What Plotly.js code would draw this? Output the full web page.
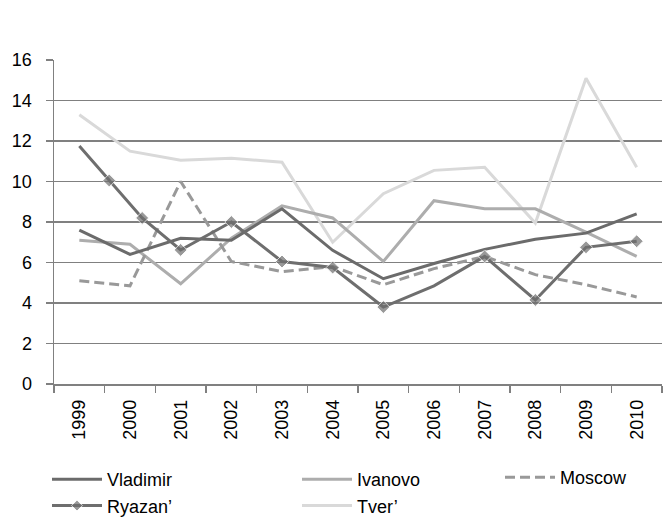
<!DOCTYPE html>
<html>
<head>
<meta charset="utf-8">
<script src="https://cdn.plot.ly/plotly-3.0.1.min.js"></script>
<style>
  body { margin: 0; background: #fff; }
  #chart { width: 669px; height: 517px; }
</style>
</head>
<body>
<div id="chart"></div>
<script>
// values
var years = [1999, 2000, 2001, 2002, 2003, 2004, 2005, 2006, 2007, 2008, 2009, 2010];
var yearLabels = ['1999', '2000', '2001', '2002', '2003', '2004', '2005', '2006', '2007', '2008', '2009', '2010'];

var vladimir = [7.6, 6.4, 7.2, 7.1, 8.65, 6.6, 5.2, 5.95, 6.65, 7.15, 7.45, 8.4];
var ivanovo  = [7.1, 6.9, 4.95, 7.2, 8.8, 8.2, 6.05, 9.05, 8.65, 8.65, 7.5, 6.3];
var moscow   = [5.1, 4.85, 10.0, 6.05, 5.55, 5.8, 4.9, 5.7, 6.3, 5.4, 4.9, 4.3];
var tver     = [13.3, 11.5, 11.05, 11.15, 10.95, 7.0, 9.4, 10.55, 10.7, 7.95, 15.1, 10.7];

// Ryazan' in the source is drawn with two off-year points near 2000
var ryazanX = [1999, 1999.59, 2000.24, 2001, 2002, 2003, 2004, 2005, 2006, 2007, 2008, 2009, 2010];
var ryazanY = [11.75, 10.05, 8.2, 6.62, 8.0, 6.05, 5.75, 3.8, 4.85, 6.3, 4.15, 6.75, 7.05];
var ryazanMarked = [0, 1, 1, 1, 1, 1, 1, 1, 0, 1, 1, 1, 1];

var font = 'Liberation Sans, Arial, sans-serif';
var axisGrey = '#808080';

function lineTrace(name, x, y, color, dash, legend, rank) {
	return {
		x: x,
		y: y,
		type: 'scatter',
		mode: 'lines',
		name: name,
		legend: legend,
		legendrank: rank,
		legendgroup: name,
		hoverinfo: 'none',
		line: { color: color, width: 3, dash: dash || 'solid' }
	};
}

var trace_vladimir = lineTrace('Vladimir', years, vladimir, '#6b6b6b', null, 'legend', 1);
var trace_ivanovo = lineTrace('Ivanovo', years, ivanovo, '#adadad', null, 'legend2', 1);
var trace_moscow = lineTrace('Moscow', years, moscow, '#999999', '10px,5px', 'legend3', 1);
var trace_tver = lineTrace('Tver\u2019', years, tver, '#d9d9d9', null, 'legend2', 2);

var trace_ryazan = lineTrace('Ryazan\u2019', ryazanX, ryazanY, '#6e6e6e', null, 'legend', 2);
trace_ryazan.mode = 'lines+markers';
trace_ryazan.marker = {
	symbol: 'diamond',
	color: '#6e6e6e',
	size: ryazanMarked.map(function(m) { return m ? 10 : 0; })
};

// draw order: light lines underneath, dark ones on top
var data = [trace_tver, trace_ivanovo, trace_moscow, trace_vladimir, trace_ryazan];

var legendBase = {
	orientation: 'v',
	xref: 'container', yref: 'container',
	xanchor: 'left', yanchor: 'top',
	bgcolor: 'rgba(0,0,0,0)',
	borderwidth: 0,
	itemwidth: 50,
	tracegroupgap: 6,
	traceorder: 'normal',
	font: { family: font, size: 18, color: '#000' }
};

var layout = {
	width: 669,
	height: 517,
	margin: { l: 54, r: 7, t: 60, b: 133, autoexpand: false },
	paper_bgcolor: '#fff',
	plot_bgcolor: '#fff',
	font: { family: font, color: '#000' },
	showlegend: true,
	legend: Object.assign({}, legendBase, { x: 47 / 669, y: 1 - 461 / 517 }),
	legend2: Object.assign({}, legendBase, { x: 297 / 669, y: 1 - 461 / 517 }),
	legend3: Object.assign({}, legendBase, { x: 500 / 669, y: 1 - 459 / 517 }),
	xaxis: {
		range: [1998.5, 2010.5],
		tickmode: 'array',
		tickvals: years,
		ticktext: yearLabels,
		tickangle: -90,
		ticks: '',
		ticklabelstandoff: 7,
		tickfont: { family: font, size: 18, color: '#000' },
		minor: {
			tickmode: 'array',
			tickvals: years.map(function(y) { return y - 0.5; }).concat([years[years.length - 1] + 0.5]),
			ticks: 'outside',
			ticklen: 7,
			tickwidth: 1.3,
			tickcolor: axisGrey,
			showgrid: false
		},
		showgrid: false,
		zeroline: false,
		showline: true,
		linecolor: axisGrey,
		linewidth: 1.5,
		fixedrange: true
	},
	yaxis: {
		range: [0, 16],
		dtick: 2,
		tick0: 0,
		ticks: 'outside',
		ticklen: 7,
		tickwidth: 1.3,
		tickcolor: axisGrey,
		ticklabelstandoff: 10,
		tickfont: { family: font, size: 18, color: '#000' },
		showgrid: true,
		gridcolor: axisGrey,
		gridwidth: 1.3,
		zeroline: false,
		showline: true,
		linecolor: axisGrey,
		linewidth: 1.5,
		fixedrange: true
	}
};

Plotly.newPlot('chart', data, layout, { staticPlot: true, displayModeBar: false });
</script>
</body>
</html>
